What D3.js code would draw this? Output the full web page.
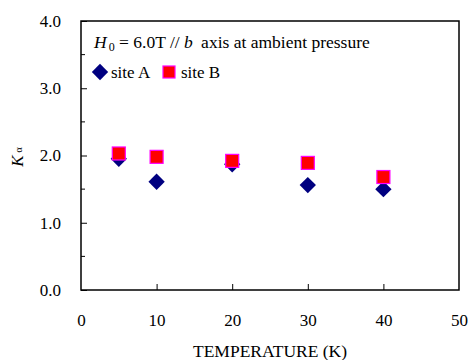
<!DOCTYPE html>
<html>
<head>
<meta charset="utf-8">
<script src="https://cdn.jsdelivr.net/npm/d3@7"></script>
<style>
  body { margin: 0; background: #fff; }
  svg text { font-family: "Liberation Serif", "Times New Roman", serif; fill: #000; }
</style>
</head>
<body>
<svg id="chart"></svg>
<script>
// data
const temps = [5, 10, 20, 30, 40];
const siteA = [1.95, 1.61, 1.87, 1.56, 1.50];
const siteB = [2.03, 1.98, 1.92, 1.89, 1.68];
const xTicks = [0, 10, 20, 30, 40, 50];
const yTicks = [0, 1, 2, 3, 4];
const yMinor = [0.5, 1.5, 2.5, 3.5];

const width = 469, height = 360;
const plotLeft = 81, plotRight = 459, plotTop = 21, plotBottom = 290;

const svg = d3.select("#chart")
    .attr("width", width)
    .attr("height", height);

const xScale = d3.scaleLinear().domain([0, 50]).range([plotLeft, plotRight]);
const yScale = d3.scaleLinear().domain([0, 4]).range([plotBottom, plotTop]);

// frame
svg.append("rect")
    .attr("x", plotLeft).attr("y", plotTop)
    .attr("width", plotRight - plotLeft).attr("height", plotBottom - plotTop)
    .attr("fill", "none")
    .attr("stroke", "#000")
    .attr("stroke-width", 1.5);

// y axis, ticks pointing inwards
let yAxis = d3.axisLeft(yScale)
    .tickValues(yTicks)
    .tickSize(-6)
    .tickPadding(20)
    .tickFormat(d3.format(".1f"));
let gy = svg.append("g").attr("transform", `translate(${plotLeft},0)`).call(yAxis);
gy.select(".domain").remove();
gy.selectAll("line").attr("stroke-width", 1);

svg.append("g").attr("transform", `translate(${plotLeft},0)`)
    .selectAll("line").data(yMinor).join("line")
    .attr("x1", 0).attr("x2", 4)
    .attr("y1", d => yScale(d)).attr("y2", d => yScale(d))
    .attr("stroke", "#000");

// x axis
let xAxis = d3.axisBottom(xScale)
    .tickValues(xTicks)
    .tickSize(-6)
    .tickPadding(24);
let gx = svg.append("g").attr("transform", `translate(0,${plotBottom})`).call(xAxis);
gx.select(".domain").remove();
gx.selectAll(".tick").filter(d => d === 0 || d === 50).select("line").remove();

svg.selectAll(".tick text")
    .style("font-size", "17px")
    .style("font-family", "Liberation Serif");

// axis titles
svg.append("text")
    .attr("x", (plotLeft + plotRight) / 2)
    .attr("y", 357)
    .attr("text-anchor", "middle")
    .style("font-size", "17.5px")
    .text("TEMPERATURE (K)");

let yl = svg.append("text")
    .attr("transform", "translate(23,157) rotate(-90)")
    .attr("text-anchor", "middle")
    .style("font-size", "17px");
yl.append("tspan").style("font-style", "italic").text("K");
yl.append("tspan").attr("dx", 3).attr("dy", -1).style("font-size", "10px").text("α");

// annotation
let note = svg.append("text").attr("x", 94).attr("y", 48).style("font-size", "17.5px");
note.append("tspan").style("font-style", "italic").text("H");
note.append("tspan").attr("dx", 2).attr("dy", 3).style("font-size", "12px").text("0");
note.append("tspan").attr("dy", -3).text(" = 6.0T // ");
note.append("tspan").style("font-style", "italic").text("b");
note.append("tspan").attr("dx", 4).text(" axis at ambient pressure");

// markers
const diamond = d3.symbol().type(d3.symbolDiamond2).size(170);

svg.append("g").selectAll("path").data(temps).join("path")
    .attr("d", diamond)
    .attr("transform", (d, i) => `translate(${xScale(d)},${yScale(siteA[i])})`)
    .attr("fill", "#000080");

svg.append("g").selectAll("rect").data(temps).join("rect")
    .attr("x", d => xScale(d) - 6.5)
    .attr("y", (d, i) => yScale(siteB[i]) - 6.5)
    .attr("width", 13).attr("height", 13)
    .attr("fill", "#ff0000")
    .attr("stroke", "#ff00ff")
    .attr("stroke-width", 1.2);

// legend
svg.append("path").attr("d", diamond)
    .attr("transform", "translate(100,72)")
    .attr("fill", "#000080");
svg.append("text").attr("x", 111).attr("y", 78).style("font-size", "17px").text("site A");
svg.append("rect")
    .attr("x", 163).attr("y", 66).attr("width", 12).attr("height", 12)
    .attr("fill", "#ff0000").attr("stroke", "#ff00ff").attr("stroke-width", 1.2);
svg.append("text").attr("x", 181).attr("y", 78).style("font-size", "17px").text("site B");
</script>
</body>
</html>
